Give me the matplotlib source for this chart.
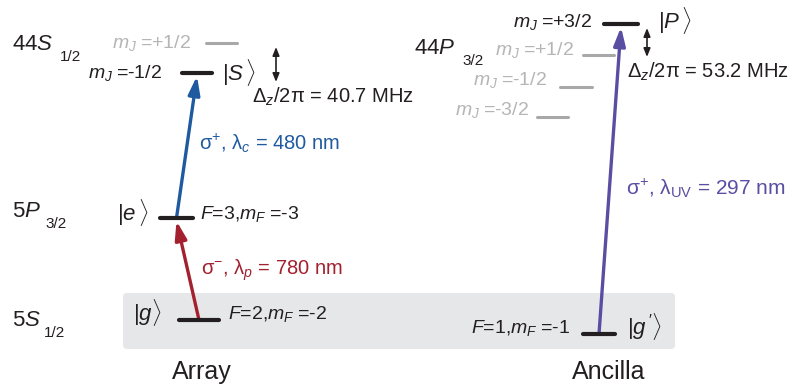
import matplotlib
matplotlib.use("Agg")
import matplotlib.pyplot as plt
from matplotlib.patches import FancyBboxPatch

plt.rcParams["font.family"] = ["Liberation Sans", "DejaVu Sans"]
plt.rcParams["mathtext.fontset"] = "custom"
plt.rcParams["mathtext.rm"] = "Liberation Sans"
plt.rcParams["mathtext.it"] = "Liberation Sans:italic"
plt.rcParams["mathtext.sf"] = "Liberation Sans"

# energy levels: (name, left, right, height) in drawing units (y grows downward)
LEVEL_NAMES = ["g", "e", "S", "S_up", "g'", "P", "P_+1/2", "P_-1/2", "P_-3/2"]
LEVEL_X0 = [179, 160, 182, 206, 583, 604, 583, 560, 537]
LEVEL_X1 = [219, 193, 212, 237, 615, 638, 614, 592, 568]
LEVEL_Y = [320, 218, 73, 43, 334, 24, 55, 87, 117]
LEVEL_ACTIVE = [True, True, True, False, True, True, False, False, False]

# laser transitions: lower level -> upper level
TRANS_FROM = ["g", "e", "g'"]
TRANS_TO = ["e", "S", "P"]
TRANS_LABEL = [r"$\mathrm{σ}^{\mathrm{-}}$, $\mathrm{λ}_{\mathit{p}}$ = 780 nm",
               r"$\mathrm{σ}^{+}$, $\mathrm{λ}_{\mathit{c}}$ = 480 nm",
               r"$\mathrm{σ}^{+}$, $\mathrm{λ}_{\mathrm{UV}}$ = 297 nm"]
TRANS_COLOR = ["#a3202f", "#1f5aa0", "#5a4ea3"]

ZEEMAN = ["40.7", "53.2"]

BLACK = "#231f20"
GREY_TXT = "#b5b5b5"
GREY_LINE = "#a8a8a8"

fig = plt.figure(figsize=(8.03, 3.92), dpi=100)
ax = fig.add_axes([0, 0, 1, 1])
ax.set_xlim(0, 803)
ax.set_ylim(392, 0)
ax.axis("off")

# shaded ground-state band
ax.add_patch(FancyBboxPatch((123, 293), 552, 56,
                            boxstyle="round,pad=0,rounding_size=4",
                            fc="#e6e7e8", ec="none", zorder=0))

lev = {}
for n, x0, x1, y, act in zip(LEVEL_NAMES, LEVEL_X0, LEVEL_X1, LEVEL_Y, LEVEL_ACTIVE):
    ax.plot([x0, x1], [y, y], color=BLACK if act else GREY_LINE,
            lw=3.0 if act else 2.2, solid_capstyle="round", zorder=3)
    lev[n] = ((x0 + x1) / 2, y)

# transitions, drawn center to center
for a, b, lab, c in zip(TRANS_FROM, TRANS_TO, TRANS_LABEL, TRANS_COLOR):
    xa, ya = lev[a]
    xb, yb = lev[b]
    ax.annotate("", xy=(xb, yb + 3), xytext=(xa, ya),
                arrowprops=dict(arrowstyle="-|>,head_length=1.1,head_width=0.35",
                                lw=2.4, color=c, shrinkA=0, shrinkB=0),
                zorder=2)

ax.text(201, 270, TRANS_LABEL[0], color=TRANS_COLOR[0], fontsize=14.5, va="center")
ax.text(199, 143, TRANS_LABEL[1], color=TRANS_COLOR[1], fontsize=14.5, va="center")
ax.text(626, 188, TRANS_LABEL[2], color=TRANS_COLOR[2], fontsize=15, va="center")

# Zeeman splittings
for x, y0, y1, val, tx, ty in [(276, 47, 82, ZEEMAN[0], 252, 97),
                               (647, 28, 57, ZEEMAN[1], 627, 72)]:
    ax.annotate("", xy=(x, y0), xytext=(x, y1),
                arrowprops=dict(arrowstyle="<|-|>,head_length=0.5,head_width=0.2",
                                lw=1.2, color=BLACK, shrinkA=0, shrinkB=0))
    ax.text(tx, ty, r"$\mathrm{Δ}_{\mathit{z}}$/2π = " + val + " MHz",
            fontsize=14.5, color=BLACK, va="center")

# term labels with dropped subscripts
for x, y, main, sub, sx in [(12, 44, r"44$\mathit{S}$", "1/2", 60),
                            (12, 211, r"5$\mathit{P}$", "3/2", 45),
                            (12, 320, r"5$\mathit{S}$", "1/2", 44),
                            (414, 48, r"44$\mathit{P}$", "3/2", 462)]:
    ax.text(x, y, main, fontsize=16, color=BLACK, va="center")
    ax.text(sx, y + 13, sub, fontsize=11, color=BLACK, va="center")

# kets
for x, y, s in [(222, 72, r"$|\mathit{S}\,\rangle$"), (117, 212, r"$|\mathit{e}\,\rangle$"),
                (133, 313, r"$|\mathit{g}\rangle$"), (627, 327, r"$|\mathit{g}\,'\rangle$"),
                (658, 20, r"$|\mathit{P}\,\rangle$")]:
    ax.text(x, y, s, fontsize=16, color=BLACK, va="center")

# sublevel labels
for x, y, s, c in [(88, 73, r"$m_{J}\;$=-1/2", BLACK), (112, 43, r"$m_{J}\;$=+1/2", GREY_TXT),
                   (513, 22, r"$m_{J}\;$=+3/2", BLACK), (495, 50, r"$m_{J}\;$=+1/2", GREY_TXT),
                   (473, 80, r"$m_{J}\;$=-1/2", GREY_TXT), (455, 110, r"$m_{J}\;$=-3/2", GREY_TXT),
                   (200, 214, r"$F$=3,$m_{F}\;$=-3", BLACK), (228, 314, r"$F$=2,$m_{F}\;$=-2", BLACK),
                   (471, 328, r"$F$=1,$m_{F}\;$=-1", BLACK)]:
    ax.text(x, y, s, fontsize=14, color=c, va="center")

ax.text(202, 372, "Array", fontsize=18, color=BLACK, ha="center", va="center")
ax.text(609, 372, "Ancilla", fontsize=18, color=BLACK, ha="center", va="center")

fig.savefig("out.png", dpi=100)
